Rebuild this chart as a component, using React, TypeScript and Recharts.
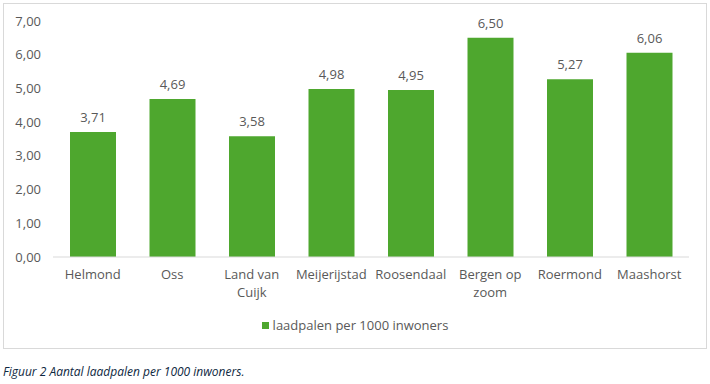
import React from "react";
import { BarChart, Bar, XAxis, YAxis, LabelList } from "recharts";

const categories = ["Helmond", "Oss", "Land van Cuijk", "Meijerijstad", "Roosendaal", "Bergen op zoom", "Roermond", "Maashorst"];
const tickLabels = ["Helmond", "Oss", "Land van\nCuijk", "Meijerijstad", "Roosendaal", "Bergen op\nzoom", "Roermond", "Maashorst"];
const values = [3.71, 4.69, 3.58, 4.98, 4.95, 6.5, 5.27, 6.06];
const yTicks = [0, 1, 2, 3, 4, 5, 6, 7];
const seriesName = "laadpalen per 1000 inwoners";
const caption = "Figuur 2 Aantal laadpalen per 1000 inwoners.";

const data = categories.map((c, i) => ({ name: c, label: tickLabels[i], value: values[i] }));

const FONT = "'Open Sans', 'Liberation Sans', sans-serif";
const TEXT = "#595959";
const GREEN = "#4EA72E";

const fmt = (v: number) => v.toFixed(2).replace(".", ",");

const XTick = (props: any) => {
  const { x, y, payload, index } = props;
  const lines = (tickLabels[index] ?? String(payload.value)).split("\n");
  return (
    <g transform={`translate(${x},${y})`}>
      <text textAnchor="middle" fill={TEXT} fontSize={13} fontFamily={FONT}>
        {lines.map((l, i) => (
          <tspan key={i} x={0} dy={i === 0 ? "0.71em" : 18}>
            {l}
          </tspan>
        ))}
      </text>
    </g>
  );
};

export default function App() {
  return (
    <div style={{ position: "absolute", left: 0, top: 0, width: 710, height: 384, background: "#fff", fontFamily: FONT }}>
      <div
        style={{
          position: "absolute",
          left: 3,
          top: 3,
          width: 704,
          height: 346,
          border: "1px solid #d9d9d9",
          boxSizing: "border-box",
        }}
      />
      <div style={{ position: "absolute", left: 0, top: 0 }}>
        <BarChart width={710} height={350} data={data} margin={{ top: 21, right: 21, bottom: 33, left: 0 }} barSize={46}>
          <YAxis
            width={53}
            domain={[0, 7]}
            ticks={yTicks}
            tickFormatter={fmt}
            axisLine={false}
            tickLine={false}
            tickSize={0}
            tickMargin={12}
            tick={{ fill: TEXT, fontSize: 13, fontFamily: FONT }}
          />
          <XAxis
            dataKey="name"
            height={60}
            axisLine={{ stroke: "#d9d9d9" }}
            tickLine={false}
            tickSize={0}
            tickMargin={13}
            interval={0}
            tick={<XTick />}
          />
          <Bar dataKey="value" name={seriesName} fill={GREEN} isAnimationActive={false}>
            <LabelList
              dataKey="value"
              position="top"
              offset={10}
              formatter={(v: any) => fmt(Number(v))}
              style={{ fill: TEXT, fontSize: 13, fontFamily: FONT }}
            />
          </Bar>
        </BarChart>
      </div>
      <div
        style={{
          position: "absolute",
          left: 0,
          width: 710,
          top: 316,
          display: "flex",
          justifyContent: "center",
          alignItems: "center",
          fontSize: 13,
          color: TEXT,
        }}
      >
        <span style={{ display: "inline-block", width: 7, height: 7, background: GREEN, marginRight: 4, marginLeft: 0 }} />
        <span>{seriesName}</span>
      </div>
      <div
        style={{
          position: "absolute",
          left: 3,
          top: 363,
          fontSize: 12,
          fontStyle: "italic",
          color: "#0E2841",
          whiteSpace: "nowrap",
        }}
      >
        {caption}
      </div>
    </div>
  );
}
